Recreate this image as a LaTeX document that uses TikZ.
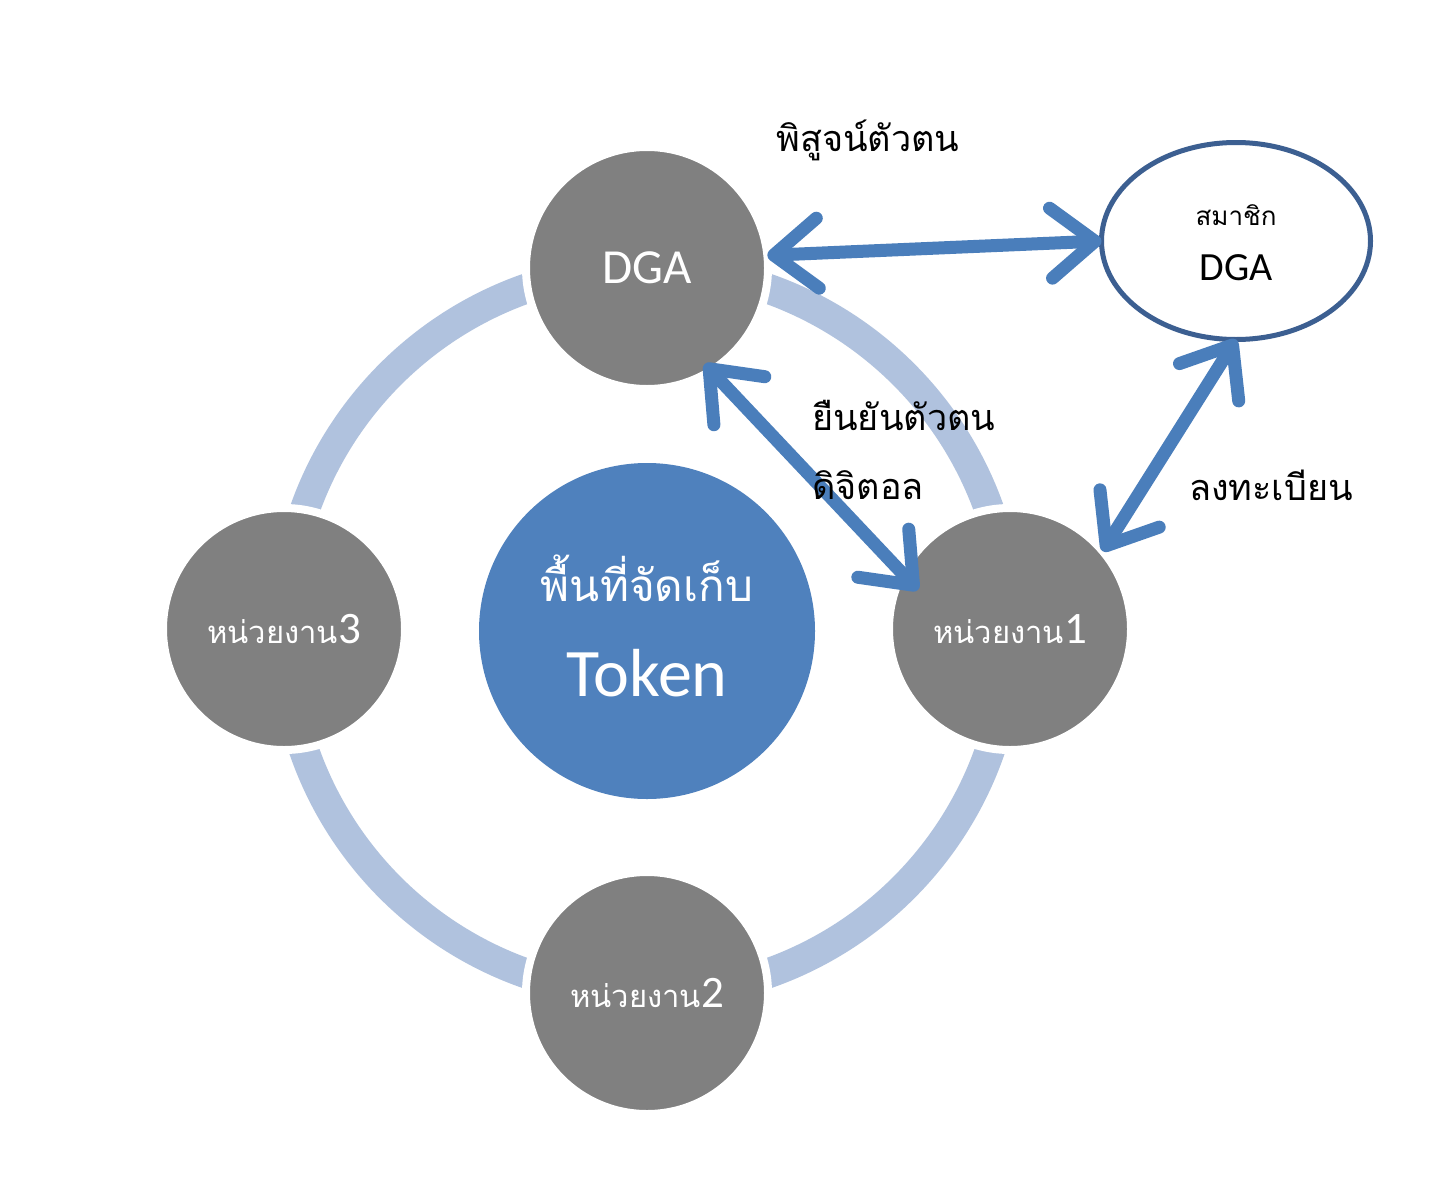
\documentclass[tikz,border=0pt]{standalone}
\usepackage{fontspec}
\setmainfont{Carlito}
\newfontfamily\thai[Script=Thai]{Loma}
\usetikzlibrary{arrows.meta,shapes.geometric,calc}
\definecolor{ringc}{RGB}{176,194,222}
\definecolor{unitc}{RGB}{128,128,128}
\definecolor{corec}{RGB}{79,129,189}
\definecolor{edgec}{RGB}{60,95,145}
\definecolor{arrc}{RGB}{74,126,187}
\newcommand{\unitlabel}[1]{{\thai\fontsize{31}{36}\selectfont หน่วยงาน}{\fontsize{45}{48}\selectfont #1}}
\tikzset{
  unit/.style={circle, fill=unitc, draw=white, line width=8pt, minimum size=242pt,
    inner sep=0pt, outer sep=0pt, text=white},
  core/.style={circle, fill=corec, minimum size=336pt, inner sep=0pt, outer sep=0pt},
  coretext/.style={text=white, align=center, inner sep=0pt},
  member/.style={ellipse, draw=edgec, fill=white, line width=5pt, minimum width=269pt,
    minimum height=197pt, inner sep=0pt, outer sep=0pt},
  link/.style={arrc, line width=13pt, line cap=round,
    {Straight Barb[length=44pt, width=70pt, round]}-{Straight Barb[length=44pt, width=70pt, round]}},
  lbl/.style={font=\thai\fontsize{36}{40}\selectfont, text=black, inner sep=0pt}
}
\begin{document}
\begin{tikzpicture}[x=1pt,y=-1pt]
\useasboundingbox[fill=white] (0,0) rectangle (1435,1191);
% ring
\draw[ringc, line width=30pt] (647,631) circle[radius=363];
% center
\node[core] (core) at (647,631) {};
\node[coretext] (coret) at (647,626) {{\thai\fontsize{44}{50}\selectfont พื้นที่จัดเก็บ}\\[46pt]{\fontsize{68}{70}\selectfont Token}};
% satellites
\node[unit, font=\fontsize{49}{54}\selectfont] (dga) at (647,268) {DGA};
\node[unit] (u1) at (1010,629) {\unitlabel{1}};
\node[unit] (u2) at (647,993) {\unitlabel{2}};
\node[unit] (u3) at (284,629) {\unitlabel{3}};
% member ellipse
\node[member] (mem) at (1236,241) {};
\node[font=\thai\fontsize{26}{30}\selectfont, inner sep=0pt] (memt) at (1236,215) {สมาชิก};
\node[font=\fontsize{40}{44}\selectfont, inner sep=0pt] (memd) at (1236,268) {DGA};
% arrows
\draw[link] (dga.6) -- (mem.west);
\draw[link] ($(dga.center)+(-59:112pt)$) -- ($(u1.center)+(157:100pt)$);
\draw[link] (mem.south) -- (u1.40);
% labels
\node[lbl] (l1) at (868,140) {พิสูจน์ตัวตน};
\node[lbl, anchor=west] (l2) at (812,415) {ยืนยันตัวตน};
\node[lbl, anchor=west] (l3) at (812,485) {ดิจิตอล};
\node[lbl] (l4) at (1271,485) {ลงทะเบียน};
\end{tikzpicture}
\end{document}
